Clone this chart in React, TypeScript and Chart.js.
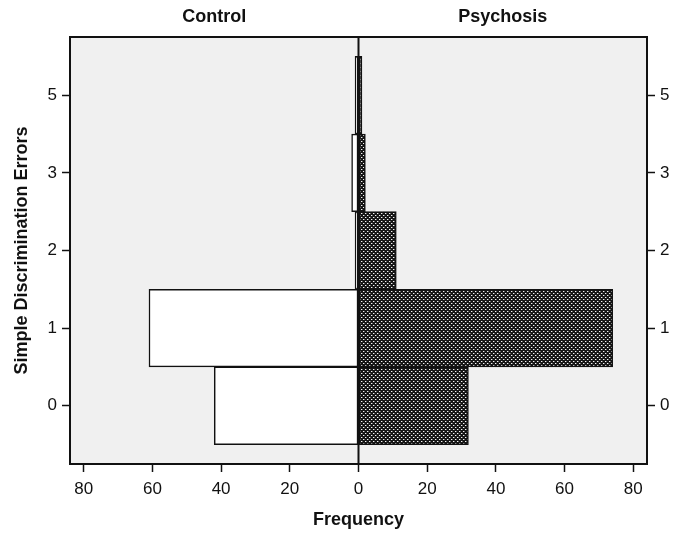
import React, { useEffect, useRef } from 'react';
import { Chart, registerables } from 'chart.js';

Chart.register(...registerables);

const categories = ['0', '1', '2', '3', '5'];
const controlFreq = [42, 61, 1, 2, 1];
const psychosisFreq = [32, 74, 11, 2, 1];
const xTickValues = [-80, -60, -40, -20, 0, 20, 40, 60, 80];
const groupTitles = ['Control', 'Psychosis'];
const xTitle = 'Frequency';
const yTitle = 'Simple Discrimination Errors';

const FONT = '"Liberation Sans", Arial, sans-serif';

function makePattern(): CanvasPattern | string {
  const c = document.createElement('canvas');
  c.width = 4;
  c.height = 4;
  const g = c.getContext('2d');
  if (!g) return '#444';
  g.fillStyle = '#161616';
  g.fillRect(0, 0, 4, 4);
  g.fillStyle = '#f4f4f4';
  g.fillRect(1, 1, 1, 1);
  g.fillRect(3, 3, 1, 1);
  g.fillStyle = '#6a6a6a';
  g.fillRect(2, 1, 1, 1);
  g.fillRect(0, 3, 1, 1);
  const p = g.createPattern(c, 'repeat');
  return p || '#444';
}

const framePlugin = {
  id: 'framePlugin',
  beforeDraw(chart: any) {
    const { ctx, chartArea: a } = chart;
    ctx.save();
    ctx.fillStyle = '#ffffff';
    ctx.fillRect(0, 0, chart.width, chart.height);
    ctx.fillStyle = '#f0f0f0';
    ctx.fillRect(a.left, a.top, a.right - a.left, a.bottom - a.top);
    ctx.restore();
  },
  afterDatasetsDraw(chart: any) {
    const { ctx, chartArea: a } = chart;
    const zx = chart.scales.x.getPixelForValue(0);
    ctx.save();
    ctx.strokeStyle = '#111';
    ctx.lineWidth = 2;
    ctx.beginPath();
    ctx.moveTo(zx, a.top);
    ctx.lineTo(zx, a.bottom);
    ctx.stroke();
    ctx.strokeRect(a.left, a.top, a.right - a.left, a.bottom - a.top);
    ctx.restore();
  },
  afterDraw(chart: any) {
    const { ctx, chartArea: a } = chart;
    const zx = chart.scales.x.getPixelForValue(0);
    ctx.save();
    ctx.fillStyle = '#111';
    ctx.font = `bold 18px ${FONT}`;
    ctx.textAlign = 'center';
    ctx.textBaseline = 'middle';
    ctx.fillText(groupTitles[0], (a.left + zx) / 2, 17);
    ctx.fillText(groupTitles[1], (zx + a.right) / 2, 17);
    ctx.fillText(xTitle, (a.left + a.right) / 2, 520);
    ctx.translate(22, (a.top + a.bottom) / 2);
    ctx.rotate(-Math.PI / 2);
    ctx.fillText(yTitle, 0, 0);
    ctx.restore();
  },
};

function yAxis(position: 'left' | 'right', width: number) {
  return {
    type: 'linear',
    position,
    min: -0.75,
    max: 4.75,
    stacked: true,
    offset: false,
    afterBuildTicks: (s: any) => {
      s.ticks = categories.map((_, i) => ({ value: i }));
    },
    afterFit: (s: any) => {
      s.width = width;
    },
    ticks: {
      callback: (v: any) => categories[v],
      font: { family: FONT, size: 17 },
      color: '#111',
      padding: 5,
    },
    grid: {
      offset: false,
      drawOnChartArea: false,
      drawTicks: true,
      tickLength: 8,
      tickColor: '#111',
      tickWidth: 1.5,
    },
    border: { display: false },
  };
}

export default function App() {
  const ref = useRef<HTMLCanvasElement | null>(null);
  useEffect(() => {
    if (!ref.current) return;
    const pattern = makePattern();
    const chart = new Chart(ref.current, {
      type: 'bar',
      data: {
        datasets: [
          {
            label: groupTitles[0],
            data: controlFreq.map((v, i) => ({ x: -v, y: i })),
            backgroundColor: '#ffffff',
            borderColor: '#111',
            borderWidth: 1.5,
            borderSkipped: false,
            categoryPercentage: 1,
            barPercentage: 1,
          },
          {
            label: groupTitles[1],
            data: psychosisFreq.map((v, i) => ({ x: v, y: i })),
            backgroundColor: pattern as any,
            borderColor: '#111',
            borderWidth: 1.5,
            borderSkipped: false,
            categoryPercentage: 1,
            barPercentage: 1,
          },
        ],
      },
      options: {
        indexAxis: 'y',
        responsive: false,
        animation: false,
        layout: { padding: { top: 37, left: 0, right: 0, bottom: 0 } },
        plugins: { legend: { display: false }, tooltip: { enabled: false } },
        scales: {
          x: {
            type: 'linear',
            position: 'bottom',
            min: -84,
            max: 84,
            afterBuildTicks: (s: any) => {
              s.ticks = xTickValues.map((v) => ({ value: v }));
            },
            afterFit: (s: any) => {
              s.height = 69;
            },
            ticks: {
              callback: (v: any) => String(Math.abs(v)),
              font: { family: FONT, size: 17 },
              color: '#111',
              padding: 7,
              maxRotation: 0,
            },
            grid: {
              drawOnChartArea: false,
              drawTicks: true,
              tickLength: 8,
              tickColor: '#111',
              tickWidth: 1.5,
            },
            border: { display: false },
          },
          y: yAxis('left', 70) as any,
          y2: yAxis('right', 43) as any,
        },
      } as any,
      plugins: [framePlugin],
    });
    return () => chart.destroy();
  }, []);
  return (
    <div style={{ position: 'absolute', left: 0, top: 0, width: 690, height: 533 }}>
      <canvas ref={ref} width={690} height={533} style={{ width: 690, height: 533 }} />
    </div>
  );
}
